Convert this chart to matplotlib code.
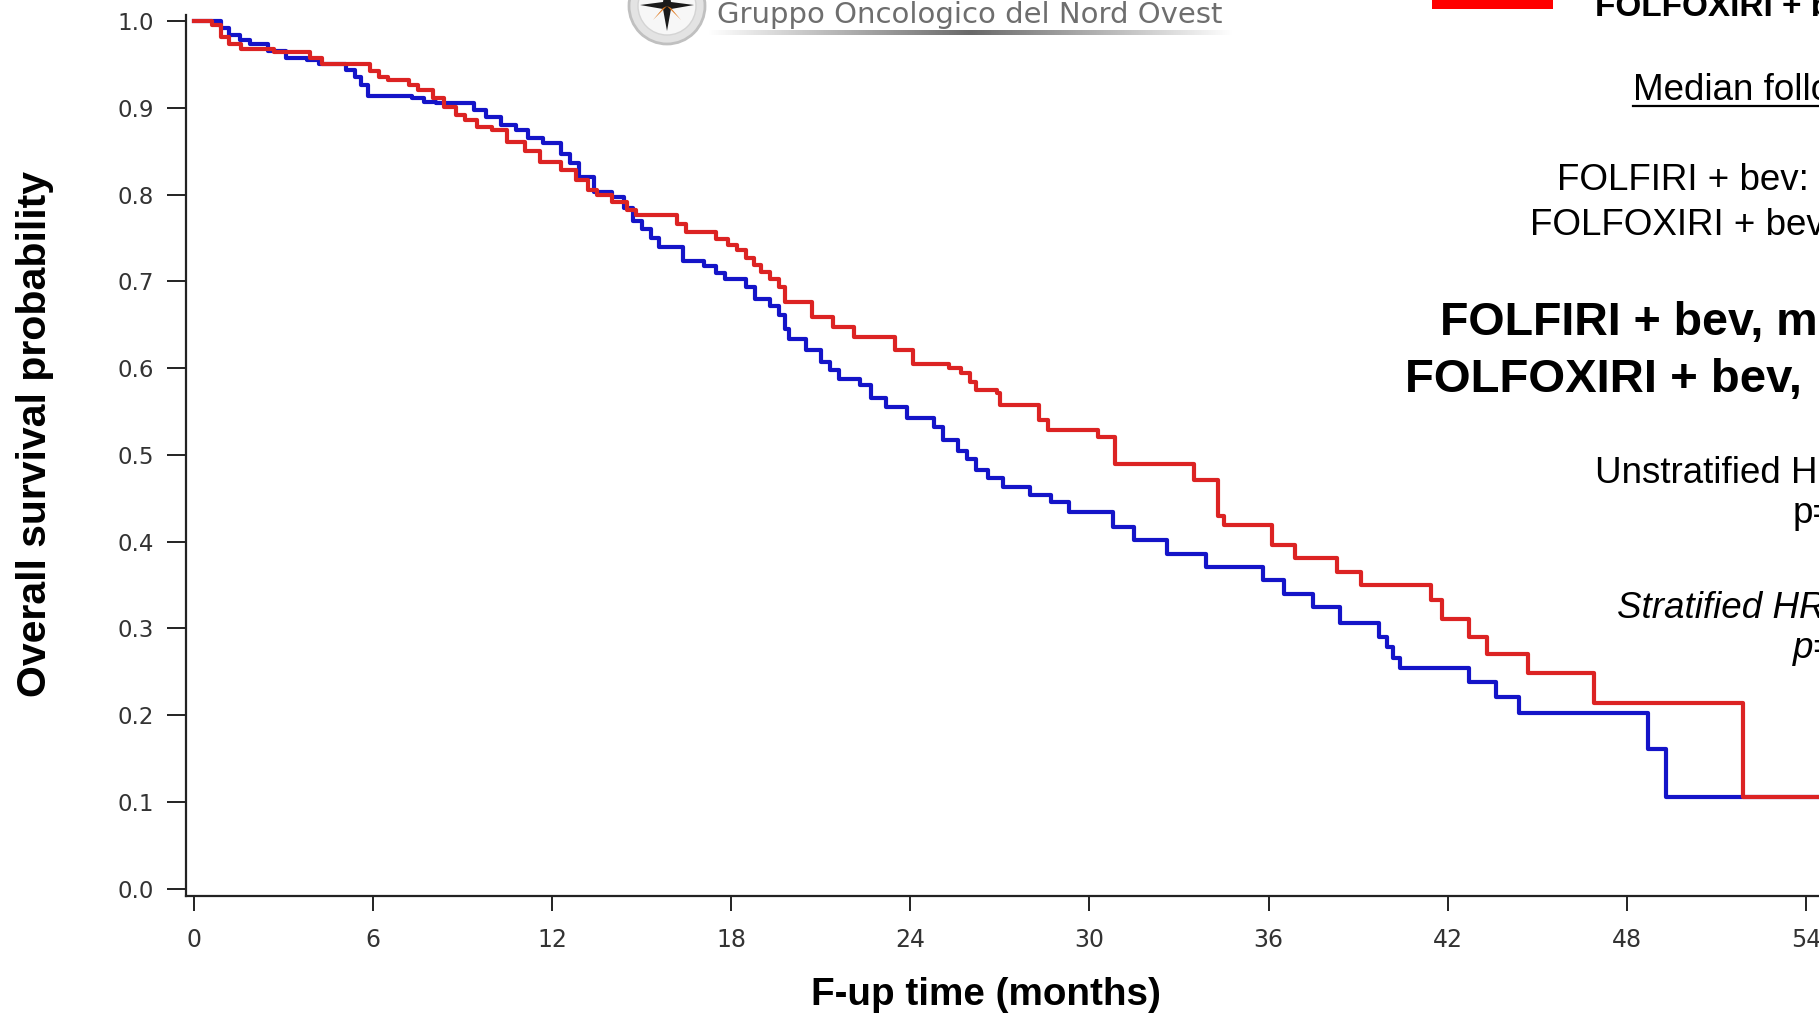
import numpy as np
import matplotlib
matplotlib.use("Agg")
import matplotlib.pyplot as plt
from matplotlib.patches import Rectangle, Circle, Polygon
from matplotlib.lines import Line2D

W, H = 1819, 1019

# Kaplan-Meier step points (months, survival)
folfiri_t = [0, 0.9, 1.2, 1.55, 1.9, 2.5, 3.1, 3.8, 4.2, 5.1, 5.4, 5.6, 5.85, 7.3, 7.7,
             8.1, 9.4, 9.8, 10.3, 10.8, 11.2, 11.7, 12.3, 12.6, 12.9, 13.4, 14.0, 14.4,
             14.7, 15.0, 15.3, 15.6, 16.4, 17.1, 17.5, 17.8, 18.5, 18.8, 19.3, 19.6,
             19.8, 19.95, 20.5, 21.0, 21.3, 21.6, 22.3, 22.7, 23.2, 23.9, 24.8, 25.1,
             25.6, 25.9, 26.2, 26.6, 27.1, 28.0, 28.7, 29.3, 30.8, 31.5, 32.6, 33.9,
             35.8, 36.5, 37.5, 38.4, 39.7, 39.95, 40.15, 40.4, 42.7, 43.6, 44.4, 48.7,
             49.3, 60]
folfiri_s = [1.0, 0.992, 0.984, 0.978, 0.974, 0.966, 0.958, 0.955, 0.951, 0.944, 0.935,
             0.926, 0.914, 0.911, 0.907, 0.905, 0.897, 0.889, 0.880, 0.874, 0.865, 0.859,
             0.847, 0.836, 0.820, 0.803, 0.797, 0.785, 0.770, 0.760, 0.750, 0.740, 0.724,
             0.718, 0.710, 0.703, 0.694, 0.680, 0.672, 0.661, 0.645, 0.634, 0.621, 0.607,
             0.598, 0.588, 0.580, 0.565, 0.555, 0.543, 0.532, 0.517, 0.505, 0.495, 0.482,
             0.473, 0.463, 0.454, 0.446, 0.434, 0.417, 0.402, 0.386, 0.371, 0.356, 0.340,
             0.325, 0.306, 0.290, 0.278, 0.266, 0.254, 0.238, 0.221, 0.203, 0.161, 0.106,
             0.106]

folfoxiri_t = [0, 0.6, 0.9, 1.2, 1.6, 2.7, 3.9, 4.3, 5.9, 6.2, 6.5, 7.2, 7.5, 8.0, 8.4,
               8.8, 9.1, 9.5, 10.0, 10.5, 11.1, 11.6, 12.3, 12.8, 13.2, 13.5, 14.0, 14.5,
               14.8, 16.2, 16.5, 17.5, 17.9, 18.2, 18.5, 18.75, 19.0, 19.3, 19.6, 19.8,
               20.7, 21.4, 22.1, 23.5, 24.1, 25.3, 25.7, 26.0, 26.2, 26.9, 27.0, 28.3,
               28.6, 30.3, 30.85, 33.5, 34.3, 34.5, 36.1, 36.9, 38.3, 39.1, 41.45, 41.8,
               42.7, 43.3, 44.7, 46.9, 51.9, 60]
folfoxiri_s = [1.0, 0.995, 0.982, 0.974, 0.968, 0.964, 0.957, 0.951, 0.942, 0.936, 0.932,
               0.926, 0.920, 0.911, 0.901, 0.892, 0.886, 0.878, 0.874, 0.861, 0.850, 0.838,
               0.828, 0.817, 0.805, 0.799, 0.792, 0.782, 0.776, 0.766, 0.757, 0.749, 0.742,
               0.736, 0.727, 0.719, 0.711, 0.703, 0.694, 0.676, 0.659, 0.647, 0.636, 0.621,
               0.605, 0.600, 0.594, 0.584, 0.575, 0.571, 0.557, 0.540, 0.529, 0.521, 0.490,
               0.471, 0.430, 0.419, 0.396, 0.381, 0.365, 0.350, 0.333, 0.311, 0.290, 0.271,
               0.248, 0.214, 0.106, 0.106]

x_ticks = [0, 6, 12, 18, 24, 30, 36, 42, 48, 54, 60]
y_ticks = [0.0, 0.1, 0.2, 0.3, 0.4, 0.5, 0.6, 0.7, 0.8, 0.9, 1.0]


def fx(x):
    return x / W


def fy(y):
    return 1 - y / H


arial = ["Liberation Sans", "DejaVu Sans"]

fig = plt.figure(figsize=(W / 100, H / 100), dpi=100)

# axes: left spine at x=185.6px, bottom spine at y=895.6px; 1 month = 29.86px
x0 = -0.27
x1 = 60
left = fx(185.6)
bottom = fy(895.6)
width = (x1 - x0) * 29.86 / W
height = (895.6 - 15) / H
ax = fig.add_axes([left, bottom, width, height])
ax.set_facecolor("none")
ax.set_xlim(x0, x1)
ax.set_ylim(-0.008, 1.007)

ax.plot(folfiri_t, folfiri_s, drawstyle="steps-post", color="#1414c8", lw=3.0)
ax.plot(folfoxiri_t, folfoxiri_s, drawstyle="steps-post", color="#dc2323", lw=3.0)

for side in ["top", "right"]:
    ax.spines[side].set_visible(False)
for side in ["left", "bottom"]:
    ax.spines[side].set_linewidth(1.6)
    ax.spines[side].set_color("#222222")

ax.set_xticks(x_ticks)
ax.set_yticks(y_ticks)
ax.set_yticklabels(["%.1f" % v for v in y_ticks], fontsize=16.5, color="#333333",
                   family="DejaVu Sans")
ax.set_xticklabels([str(v) for v in x_ticks], fontsize=17, color="#333333",
                   family="DejaVu Sans")
ax.tick_params(axis="y", length=14, width=1.4, pad=9, color="#222222")
ax.tick_params(axis="x", length=11, width=1.4, pad=12, color="#222222")

fig.text(fx(986), fy(995), "F-up time (months)", ha="center", va="center",
         fontsize=27.8, fontweight="bold", family=arial)
fig.text(fx(35), fy(434), "Overall survival probability", ha="center", va="center",
         rotation=90, fontsize=29.5, fontweight="bold", family=arial)

# logo at the top
logo = fig.add_axes([0, 0, 1, 1], zorder=-1)
logo.axis("off")
grad = np.abs(np.linspace(-1, 1, 300))
logo.imshow(grad[np.newaxis, :], cmap="gray", vmin=-0.7, vmax=1.0, aspect="auto",
            extent=(708, 1232, 35, 30))
logo.add_patch(Circle((667, 6), 38, facecolor="#e3e3e3", edgecolor="#c0c0c0", lw=2))
logo.add_patch(Circle((667, 6), 29, facecolor="#f7f7f7", edgecolor="#d4d4d4", lw=1))
logo.add_patch(Polygon([(667, -22), (671, 2), (694, 5), (671, 9), (667, 31),
                        (663, 9), (640, 5), (663, 2)], closed=True,
                       facecolor="#1a1a1a", edgecolor="none"))
logo.add_patch(Polygon([(667, 6), (681, 20), (671, 8)], closed=True,
                       facecolor="#e07a20", edgecolor="none"))
logo.add_patch(Polygon([(667, 6), (653, 20), (663, 8)], closed=True,
                       facecolor="#e07a20", edgecolor="none"))
logo.set_xlim(0, W)
logo.set_ylim(H, 0)
fig.text(fx(717), fy(23), "Gruppo Oncologico del Nord Ovest", ha="left",
         va="baseline", fontsize=21, color="#6e6e6e", family="DejaVu Sans")

# legend and text on the right side of the slide
fig.patches.append(Rectangle((fx(1432), fy(9)), fx(1553) - fx(1432), fy(0) - fy(9),
                             transform=fig.transFigure, facecolor="#ff0000",
                             edgecolor="none"))
fig.text(fx(1595), fy(16), "FOLFOXIRI + bev", ha="left", va="baseline",
         fontsize=24, fontweight="bold", family=arial)

fig.text(fx(1633), fy(100), "Median follow up: 48.1 months", ha="left",
         va="baseline", fontsize=26.5, family=arial)
fig.lines.append(Line2D([fx(1633), 1.0], [fy(106), fy(106)],
                        transform=fig.transFigure, color="black", lw=1.6))
fig.text(fx(1557), fy(190), "FOLFIRI + bev: 48.1 months", ha="left",
         va="baseline", fontsize=26.5, family=arial)
fig.text(fx(1530), fy(235), "FOLFOXIRI + bev: 48.3 months", ha="left",
         va="baseline", fontsize=26.5, family=arial)

fig.text(fx(1440), fy(335), "FOLFIRI + bev, median OS: 25.8 months", ha="left",
         va="baseline", fontsize=33.5, fontweight="bold", family=arial)
fig.text(fx(1405), fy(391.7), "FOLFOXIRI + bev,  median OS: 29.8 months", ha="left",
         va="baseline", fontsize=34, fontweight="bold", family=arial)

fig.text(fx(1595), fy(483), "Unstratified HR: 0.80", ha="left", va="baseline",
         fontsize=26.5, family=arial)
fig.text(fx(1793), fy(523), "p=0.030", ha="left", va="baseline",
         fontsize=26.5, family=arial)
fig.text(fx(1617), fy(618), "Stratified HR: 0.79", ha="left", va="baseline",
         fontsize=26.5, style="italic", family=arial)
fig.text(fx(1793), fy(658), "p=0.039", ha="left", va="baseline",
         fontsize=26.5, style="italic", family=arial)

fig.savefig("out.png", dpi=100)
